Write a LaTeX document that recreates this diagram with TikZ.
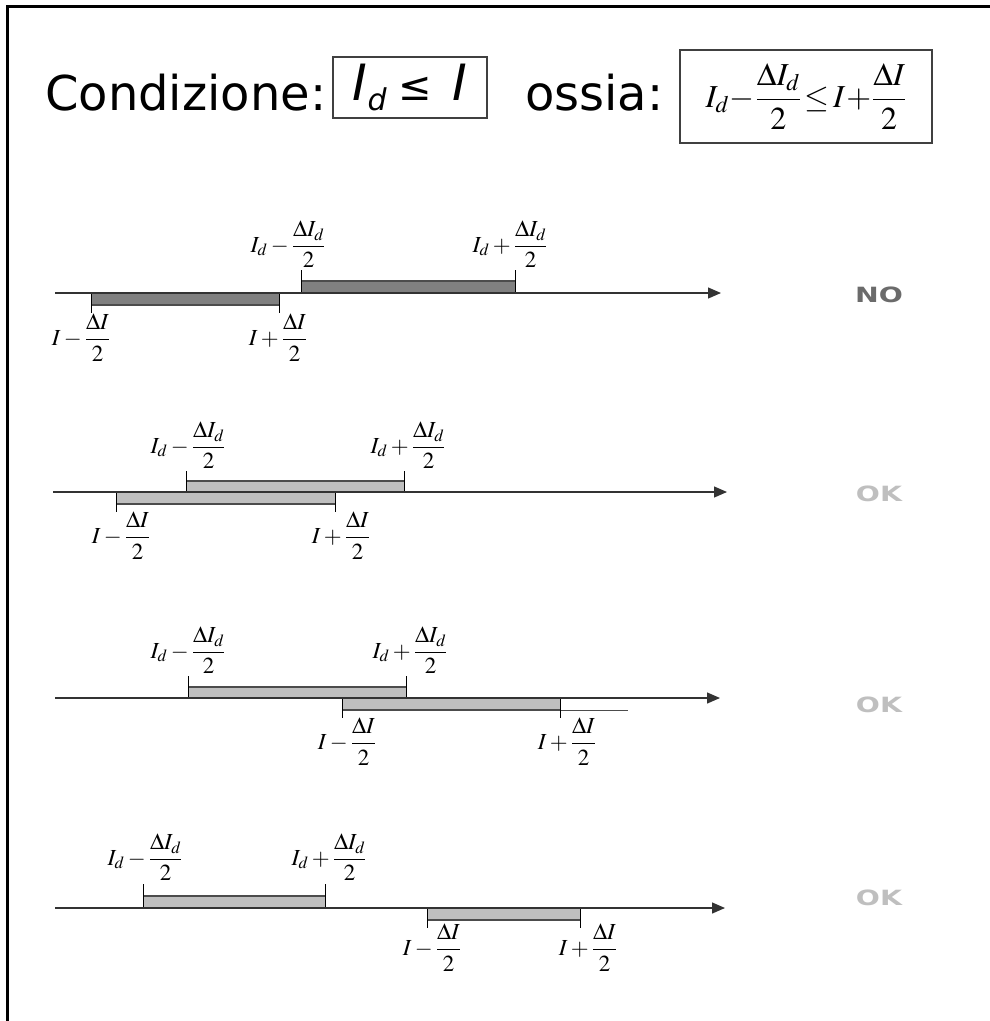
\documentclass[tikz,border=0pt]{standalone}
\usepackage{amsmath}
\usepackage{mathptmx}
\usepackage{fontspec}
\newfontfamily\verdana{DejaVu Sans}
\usetikzlibrary{arrows.meta}

\begin{document}
\begin{tikzpicture}[x=1pt, y=-1pt,
	axis/.style={draw=black!80, line width=1.3pt, -{Triangle[length=13pt, width=11pt]}},
	tick/.style={draw=black, line width=1pt},
	edge/.style={draw=black!70, line width=2pt},
	lbl/.style={inner sep=0pt, font=\fontsize{23}{27}\selectfont},
	verdict/.style={font=\verdana\bfseries\fontsize{21}{25}\selectfont, xscale=1.35}]
	\useasboundingbox (0,0) rectangle (990,1021);

	% frame
	\draw[line width=3pt] (990,6) -- (7,6) -- (7,1021);

	% condition
	\node[anchor=base west, inner sep=0pt, font=\verdana\fontsize{48}{58}\selectfont] (cond) at (45,110) {Condizione:};
	\node[draw=black!75, line width=1.2pt, minimum width=154, minimum height=61, inner sep=0pt,
		font=\verdana\fontsize{50}{58}\selectfont] (cbox) at (410,87.5)
		{\itshape I\raisebox{-10pt}{\fontsize{30}{30}\selectfont d}\hspace{12pt}\upshape{\fontsize{40}{40}\selectfont ≤}\hspace{20pt}\itshape I};
	\node[anchor=base west, inner sep=0pt, font=\verdana\fontsize{48}{58}\selectfont] (ossia) at (525,110) {ossia:};
	\node[draw=black!75, line width=1.2pt, minimum width=252, minimum height=93, inner sep=0pt,
		font=\fontsize{32}{38}\selectfont] (obox) at (806,96.5)
		{$I_d\!-\!\dfrac{\Delta I_d}{2}\!\le\! I\!+\!\dfrac{\Delta I}{2}$};

	% row 1: NO
	\fill[black!50] (301,281) rectangle (515,293);
	\fill[black!50] (91,293) rectangle (279,305);
	\draw[edge] (301,281) -- (515,281);
	\draw[edge] (91,305) -- (279,305);
	\draw[tick] (301,270) -- (301,293);
	\draw[tick] (515,270) -- (515,293);
	\draw[tick] (91,293) -- (91,313);
	\draw[tick] (279,293) -- (279,313);
	\coordinate (a1s) at (55,293);
	\coordinate (a1e) at (721,293);
	\draw[axis] (a1s) -- (a1e);
	\node[lbl, anchor=south] (d1l) at (288,268) {$I_d-\dfrac{\Delta I_d}{2}$};
	\node[lbl, anchor=south] (d1r) at (510,268) {$I_d+\dfrac{\Delta I_d}{2}$};
	\node[lbl, anchor=north] (i1l) at (81,314) {$I-\dfrac{\Delta I}{2}$};
	\node[lbl, anchor=north] (i1r) at (278,314) {$I+\dfrac{\Delta I}{2}$};
	\node[verdict, text=black!58] (v1) at (879,295) {NO};

	% row 2: OK
	\fill[black!25] (186,481) rectangle (404,492);
	\fill[black!25] (116,492) rectangle (335,504);
	\draw[edge] (186,481) -- (404,481);
	\draw[edge] (116,504) -- (335,504);
	\draw[tick] (186,471) -- (186,492);
	\draw[tick] (404,471) -- (404,492);
	\draw[tick] (116,492) -- (116,512);
	\draw[tick] (335,492) -- (335,512);
	\coordinate (a2s) at (53,492);
	\coordinate (a2e) at (727,492);
	\draw[axis] (a2s) -- (a2e);
	\node[lbl, anchor=south] (d2l) at (188,469) {$I_d-\dfrac{\Delta I_d}{2}$};
	\node[lbl, anchor=south] (d2r) at (408,469) {$I_d+\dfrac{\Delta I_d}{2}$};
	\node[lbl, anchor=north] (i2l) at (121,512) {$I-\dfrac{\Delta I}{2}$};
	\node[lbl, anchor=north] (i2r) at (341,512) {$I+\dfrac{\Delta I}{2}$};
	\node[verdict, text=black!25] (v2) at (879,494) {OK};

	% row 3: OK
	\fill[black!25] (188,687) rectangle (406,698);
	\fill[black!25] (342,698) rectangle (560,710);
	\draw[edge] (188,687) -- (406,687);
	\draw[edge] (342,710) -- (560,710);
	\draw[black!70, line width=1pt] (560,710) -- (628,710);
	\draw[tick] (188,676) -- (188,698);
	\draw[tick] (406,676) -- (406,698);
	\draw[tick] (342,698) -- (342,718);
	\draw[tick] (560,698) -- (560,718);
	\coordinate (a3s) at (55,698);
	\coordinate (a3e) at (720,698);
	\draw[axis] (a3s) -- (a3e);
	\node[lbl, anchor=south] (d3l) at (188,674) {$I_d-\dfrac{\Delta I_d}{2}$};
	\node[lbl, anchor=south] (d3r) at (410,674) {$I_d+\dfrac{\Delta I_d}{2}$};
	\node[lbl, anchor=north] (i3l) at (347,718) {$I-\dfrac{\Delta I}{2}$};
	\node[lbl, anchor=north] (i3r) at (567,718) {$I+\dfrac{\Delta I}{2}$};
	\node[verdict, text=black!25] (v3) at (879,705) {OK};

	% row 4: OK
	\fill[black!25] (143,896) rectangle (325,908);
	\fill[black!25] (427,908) rectangle (580,920);
	\draw[edge] (143,896) -- (325,896);
	\draw[edge] (427,920) -- (580,920);
	\draw[tick] (143,884) -- (143,908);
	\draw[tick] (325,884) -- (325,908);
	\draw[tick] (427,908) -- (427,928);
	\draw[tick] (580,908) -- (580,928);
	\coordinate (a4s) at (55,908);
	\coordinate (a4e) at (725,908);
	\draw[axis] (a4s) -- (a4e);
	\node[lbl, anchor=south] (d4l) at (145,881) {$I_d-\dfrac{\Delta I_d}{2}$};
	\node[lbl, anchor=south] (d4r) at (329,881) {$I_d+\dfrac{\Delta I_d}{2}$};
	\node[lbl, anchor=north] (i4l) at (432,924) {$I-\dfrac{\Delta I}{2}$};
	\node[lbl, anchor=north] (i4r) at (588,924) {$I+\dfrac{\Delta I}{2}$};
	\node[verdict, text=black!25] (v4) at (879,898) {OK};
\end{tikzpicture}
\end{document}
